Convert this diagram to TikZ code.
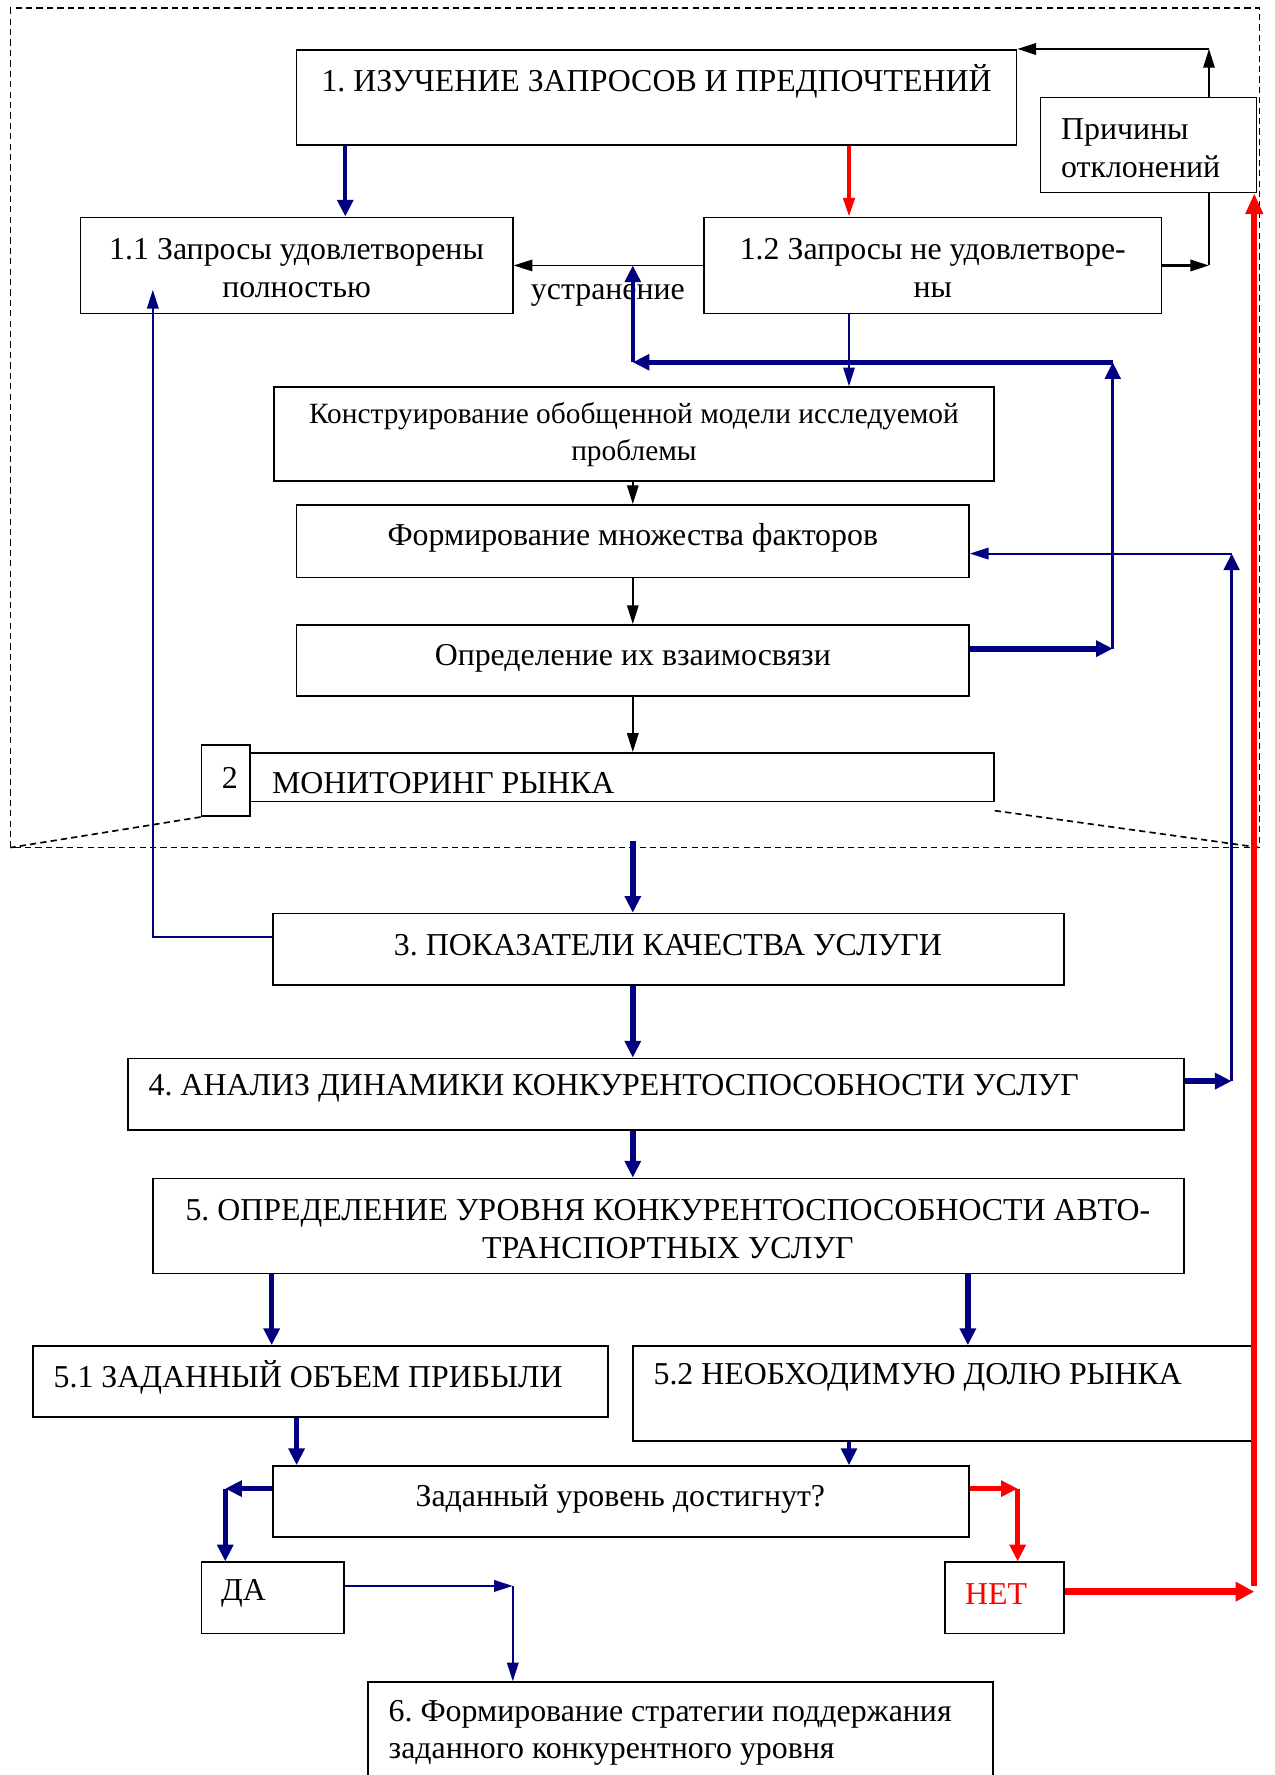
\documentclass[tikz,border=0pt]{standalone}
\usepackage{fontspec}
\setmainfont{Liberation Serif}
\usetikzlibrary{arrows.meta,fit,calc}
\definecolor{dkblue}{RGB}{0,0,128}
\definecolor{brred}{RGB}{255,0,0}
\newcommand\fs{\fontsize{15.3pt}{18pt}\selectfont\frenchspacing}
\newcommand\fss{\fontsize{14.1pt}{17.5pt}\selectfont\frenchspacing}
\begin{document}
\begin{tikzpicture}[x=0.5435pt,y=-0.5435pt,
  box/.style={draw, line width=0.8pt, inner sep=0pt, fit={#1}},
  lbl/.style={inner sep=0pt, font=\fs, yshift=-1pt},
  tips/.style={-{Triangle[length=9pt,width=5.5pt]}},
  tipb/.style={-{Triangle[length=8pt,width=7.5pt]}},
  thinb/.style={dkblue, line width=0.8pt, tips},
  midb/.style={dkblue, line width=1.6pt, tipb},
  thkb/.style={dkblue, line width=2.6pt, tipb},
  blk/.style={black, line width=0.8pt, tips},
  frm/.style={dash pattern=on 3pt off 2pt, line width=0.8pt}
]
\useasboundingbox (0,0) rectangle (1126,1568);

% lanes
\coordinate (L1) at (305,0);
\coordinate (L2) at (750,0);
\coordinate (L3) at (1068,0);
\coordinate (L4) at (559,0);
\coordinate (L5) at (983,0);
\coordinate (L6) at (135,0);
\coordinate (L7) at (1088,0);
\coordinate (L8) at (240,0);
\coordinate (L9) at (855,0);
\coordinate (L10) at (262,0);
\coordinate (L11) at (199,0);
\coordinate (L12) at (899,0);
\coordinate (L13) at (453,0);
\coordinate (L14) at (1108,0);
\coordinate (Y320) at (0,320);
\coordinate (Y573) at (0,573);
\coordinate (Y828) at (0,828);
\coordinate (Y256) at (0,256);
\coordinate (Y955) at (0,955);
\coordinate (Y489) at (0,489);
\coordinate (Y1315) at (0,1315);
\coordinate (Y1401) at (0,1401);
\coordinate (Y1406) at (0,1406);
\coordinate (S3) at (559,743);

% frame
\node[box={(10,8) (1112,748)}, draw=none] (frame) {};
\draw[frm] (frame.north west) rectangle (frame.south east);

% boxes
\node[box={(262,44) (898,128)}] (b1) {};
\node[box={(919,86) (1110,170)}] (bp) {};
\node[box={(71,192) (453,277)}] (b11) {};
\node[box={(622,192) (1026,277)}] (b12) {};
\node[box={(242,342) (878,425)}] (bk) {};
\node[box={(262,446) (856,510)}] (bf) {};
\node[box={(262,552) (856,615)}] (bo) {};
\node[box={(221,665) (878,708)}] (bm) {};
\node[box={(178,658) (221,721)}] (b2) {};
\node[box={(241,807) (940,870)}] (b3) {};
\node[box={(113,935) (1046,998)}] (b4) {};
\node[box={(135,1041) (1046,1125)}] (b5) {};
\node[box={(29,1189) (537,1252)}] (b51) {};
\node[box={(559,1189) (1108,1273)}] (b52) {};
\node[box={(241,1295) (856,1358)}] (bz) {};
\node[box={(178,1380) (304,1443)}] (bda) {};
\node[box={(835,1380) (940,1443)}] (bnet) {};
\node[box={(325,1486) (877,1600)}] (b6) {};

% texts
\node[lbl] (t1) at (580,70) {1. ИЗУЧЕНИЕ ЗАПРОСОВ И ПРЕДПОЧТЕНИЙ};
\node[lbl, anchor=west, align=left] (tp) at (937,129) {Причины\\отклонений};
\node[lbl, align=center] (t11) at (262,235) {1.1 Запросы удовлетворены\\полностью};
\node[lbl, align=center] (t12) at (824,235) {1.2 Запросы не удовлетворе-\\ны};
\node[lbl] (tu) at (537,259) {устранение};
\node[lbl, font=\fss, align=center] (tk) at (560,382) {Конструирование обобщенной модели исследуемой\\проблемы};
\node[lbl] (tf) at (559,473) {Формирование множества факторов};
\node[lbl] (to) at (559,580) {Определение их взаимосвязи};
\node[lbl, anchor=west] (tm) at (240,690) {МОНИТОРИНГ РЫНКА};
\node[lbl] (t2) at (203,685) {2};
\node[lbl] (t3) at (590,833) {3. ПОКАЗАТЕЛИ КАЧЕСТВА УСЛУГИ};
\node[lbl, anchor=west] (t4) at (131,960) {4. АНАЛИЗ ДИНАМИКИ КОНКУРЕНТОСПОСОБНОСТИ УСЛУГ};
\node[lbl, align=center] (t5) at (590,1084) {5. ОПРЕДЕЛЕНИЕ УРОВНЯ КОНКУРЕНТОСПОСОБНОСТИ АВТО-\\ТРАНСПОРТНЫХ УСЛУГ};
\node[lbl, anchor=west] (t51) at (47,1215) {5.1 ЗАДАННЫЙ ОБЪЕМ ПРИБЫЛИ};
\node[lbl, anchor=west] (t52) at (577,1215) {5.2 НЕОБХОДИМУЮ ДОЛЮ РЫНКА};
\node[lbl] (tz) at (548,1322) {Заданный уровень достигнут?};
\node[lbl, anchor=west] (tda) at (195,1406) {ДА};
\node[lbl, text=brred] (tnet) at (880,1406) {НЕТ};
\node[lbl, anchor=west, align=left] (t6) at (343,1529) {6. Формирование стратегии поддержания\\заданного конкурентного уровня};

% top connectors
\draw[thkb, line width=2pt] (b1.south -| L1) -- (b11.north -| L1);
\draw[brred, line width=1.5pt, tips] (b1.south -| L2) -- (b12.north -| L2);
\draw[blk] (b12.west) -- (b11.east);
\draw[blk, line width=1.2pt] (b12.east) -- (L3 |- b12.east);
\draw[black, line width=0.8pt] (L3 |- b12.east) -- (bp.south -| L3);
\draw[blk] (bp.north -| L3) -- (L3 |- b1.north);
\draw[blk, line width=1.1pt] (L3 |- b1.north) -- (b1.north east);

% elimination loop
\draw[thkb, line width=3pt] (bo.east |- Y573) -- (L5 |- Y573);
\draw[midb] (L5 |- Y573) -- (L5 |- Y320);
\draw[thkb] (L5 |- Y320) -- (L4 |- Y320);
\draw[midb, line width=2pt] (L4 |- Y320) -- (L4 |- b12.west);

% middle chain
\draw[thinb] (b12.south -| L2) -- (bk.north -| L2);
\draw[blk] (bk.south -| L4) -- (bf.north -| L4);
\draw[blk] (bf.south -| L4) -- (bo.north -| L4);
\draw[blk] (bo.south -| L4) -- (bm.north -| L4);

% monitoring dashed fan
\draw[frm] (b2.south west) -- (frame.south west);
\draw[frm] ([yshift=-4pt]bm.south east) -- (frame.south east);

% lower chain
\draw[thkb] (S3) -- (b3.north -| L4);
\draw[thinb, line width=1pt] (b3.west |- Y828) -- (L6 |- Y828) -- (L6 |- Y256);
\draw[thkb] (b3.south -| L4) -- (b4.north -| L4);
\draw[thkb] (b4.east |- Y955) -- (L7 |- Y955);
\draw[midb] (L7 |- Y955) -- (L7 |- Y489);
\draw[thinb, line width=1pt] (L7 |- Y489) -- (bf.east |- Y489);
\draw[thkb] (b4.south -| L4) -- (b5.north -| L4);
\draw[thkb] (b5.south -| L8) -- (b51.north -| L8);
\draw[thkb] (b5.south -| L9) -- (b52.north -| L9);
\draw[thkb] (b51.south -| L10) -- (bz.north -| L10);
\draw[midb] (b52.south -| L2) -- (bz.north -| L2);

% decision
\draw[thkb] (bz.west |- Y1315) -- (L11 |- Y1315);
\draw[thkb] (L11 |- Y1315) -- (bda.north -| L11);
\draw[brred, line width=2.6pt, tipb] (bz.east |- Y1315) -- (L12 |- Y1315);
\draw[brred, line width=2.6pt, tipb] (L12 |- Y1315) -- (bnet.north -| L12);
\draw[thinb, line width=1pt] (bda.east |- Y1401) -- (L13 |- Y1401);
\draw[thinb, line width=1pt] (L13 |- Y1401) -- (b6.north -| L13);
\draw[brred, line width=3.6pt, -{Triangle[length=9pt,width=9pt]}] (bnet.east |- Y1406) -- (L14 |- Y1406);
\draw[brred, line width=3pt, -{Triangle[length=10pt,width=8pt]}] (L14 |- Y1401) -- (bp.south -| L14);
\end{tikzpicture}
\end{document}
